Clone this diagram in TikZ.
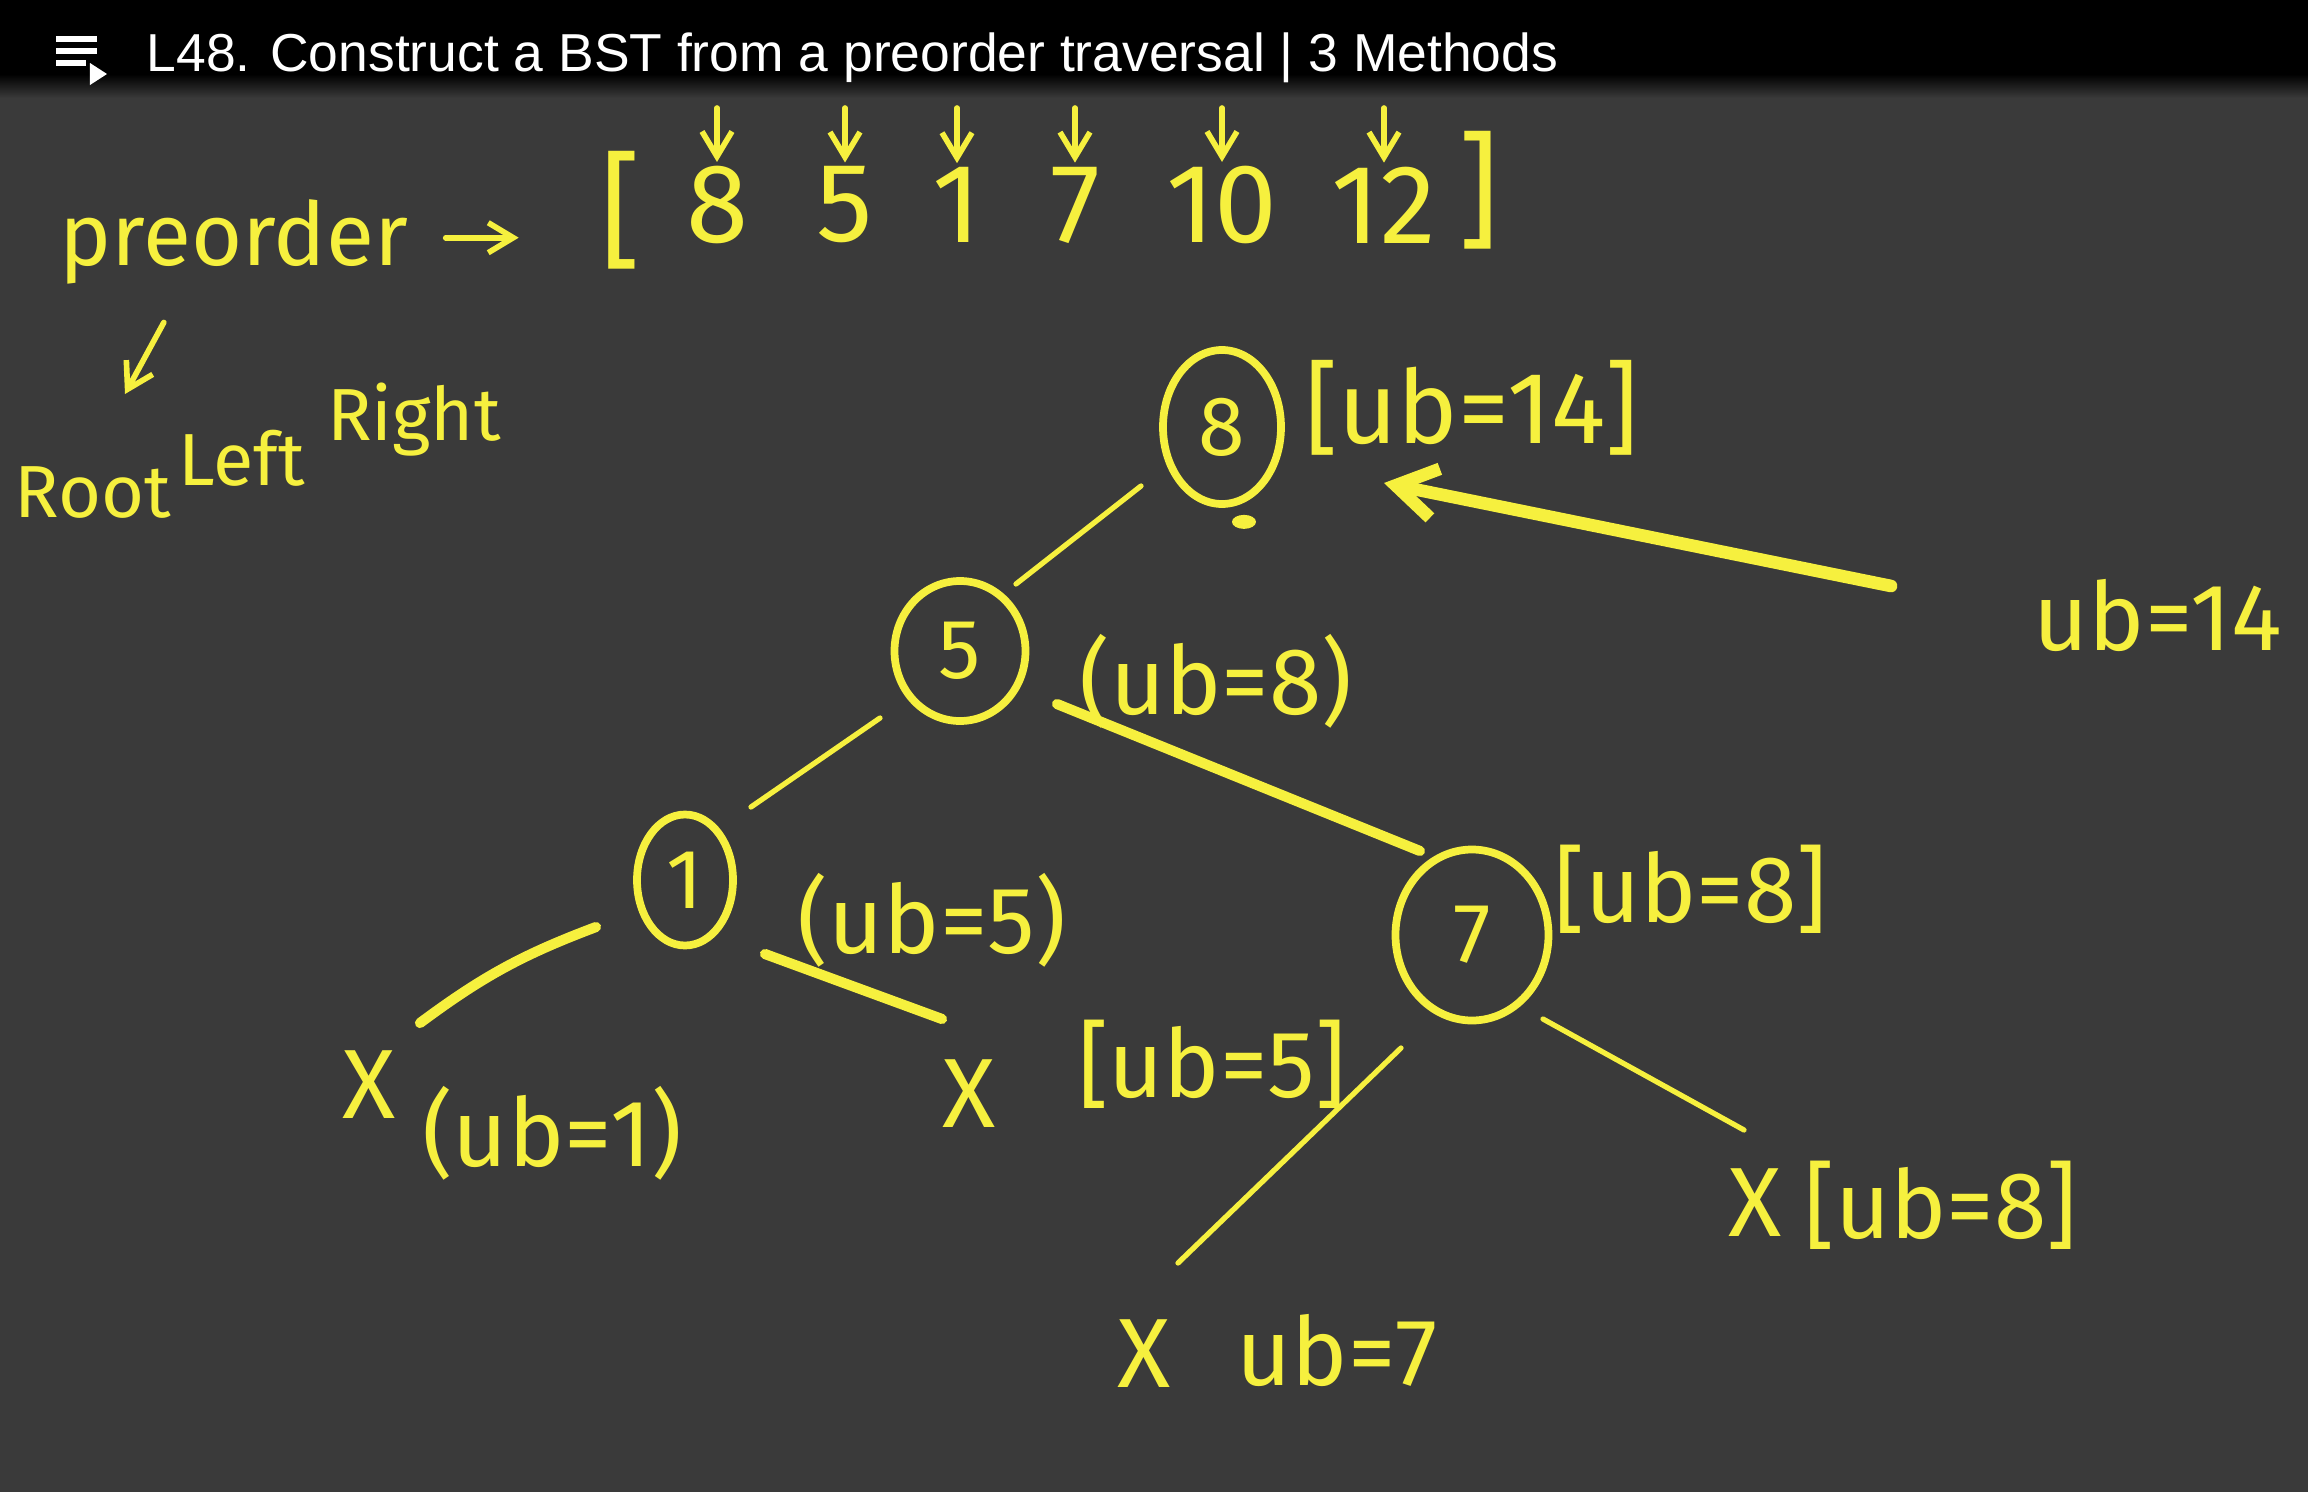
\documentclass[tikz,border=0pt]{standalone}
\usepackage{fontspec}
\setmainfont{Liberation Sans}
\newfontfamily\handfont{Fira Sans}
\usepackage{tikz}
\usetikzlibrary{shapes.geometric, arrows.meta, positioning, calc}
\definecolor{boardGray}{RGB}{58,58,58}
\definecolor{penYellow}{RGB}{246,240,62}
\newcommand{\handsz}[1]{\handfont\fontsize{#1}{#1}\selectfont}
\tikzset{
  bst/key/.style={ellipse, draw=penYellow, line width=2.2pt, inner sep=0pt,
    minimum width=12mm, minimum height=14mm,
    font=\handsz{24}, text=penYellow},
  bst/lbl/.style={inner sep=0pt, font=\handsz{27}, text=penYellow},
  bst/null/.style={inner sep=0pt, font=\handsz{28}, text=penYellow},
  bst/arr/.style={inner sep=1pt, font=\handsz{32}, text=penYellow},
  bst/word/.style={inner sep=0pt, font=\handsz{21}, text=penYellow},
  bst/edge/.style={draw=penYellow, line width=1.5pt, line cap=round},
  bst/edgeT/.style={draw=penYellow, line width=2.9pt, line cap=round},
  bst/pen/.style={draw=penYellow, line width=1.6pt, line cap=round,
    -{Straight Barb[length=2.5mm,width=3mm]}},
  bst/back/.style={draw=penYellow, line width=3.6pt, line cap=round,
    -{Straight Barb[length=4mm,width=5mm]}}
}

\begin{document}
\begin{tikzpicture}[x=1cm, y=-1cm]
  \useasboundingbox (0,0) rectangle (23.08,14.92);
  \fill[boardGray] (0,0) rectangle (23.08,14.92);
  \fill[black] (0,0) rectangle (23.08,0.74);
  \shade[top color=black, bottom color=boardGray] (0,0.74) rectangle (23.08,0.98);

  % title bar
  \foreach \yy/\len in {0.39/0.41, 0.51/0.41, 0.63/0.30}
    \draw[white, line width=0.6mm] (0.56,\yy) -- ++(\len,0);
  \fill[white] (0.90,0.63) -- (1.07,0.74) -- (0.90,0.85) -- cycle;
  \node[anchor=base west, inner sep=0pt, text=white, font=\fontsize{15.2}{16}\selectfont]
    (title) at (1.46,0.71) {L48. Construct a BST from a preorder traversal | 3 Methods};

  % preorder array
  \node[bst/lbl, font=\handsz{25}, anchor=base west] (pre) at (0.59,2.65) {preorder};
  \draw[bst/pen] ([shift={(0.37,-0.18)}]pre.mid east) -- ++(0.73,0);
  \node[bst/word] (wRoot)  at (0.93,4.93) {Root};
  \node[bst/word] (wLeft)  at (2.42,4.58) {Left};
  \node[bst/word] (wRight) at (4.14,4.20) {Right};
  \draw[bst/pen] ([shift={(-0.70,0.38)}]pre.south) -- ([shift={(0.32,-0.99)}]wRoot.center);

  \node[bst/arr, font=\handsz{36}] (lbr) at (6.21,2.10) {[};
  \node[bst/arr, font=\handsz{36}] (rbr) at (14.79,1.90) {]};
  \foreach \v/\x [count=\i] in {8/7.17, 5/8.45, 1/9.57, 7/10.75, 10/12.22, 12/13.84} {
    \node[bst/arr] (a\i) at (\x,2.05) {\v};
    \coordinate (t\i) at (\x,1.08);
    \draw[bst/pen] (t\i) -- (a\i.north);
  }

  % tree
  \node[bst/key, minimum width=11.8mm, minimum height=15.4mm] (n8) at (12.22,4.27) {8};
  \node[bst/key, minimum width=13.1mm, minimum height=14mm]   (n5) at (9.60,6.51)  {5};
  \node[bst/key, minimum width=9.6mm,  minimum height=13.1mm] (n1) at (6.85,8.80)  {1};
  \node[bst/key, minimum width=15.3mm, minimum height=17.1mm] (n7) at (14.72,9.35) {7};
  \fill[penYellow] ([shift={(0.22,0.14)}]n8.south) ellipse (0.12 and 0.07);

  \node[bst/lbl, font=\handsz{29}] (u8) at (14.72,4.08) {[ub=14]};
  \node[bst/lbl] (u5)  at (12.16,6.81)  {(ub=8)};
  \node[bst/lbl] (u1)  at (9.32,9.20)   {(ub=5)};
  \node[bst/lbl] (u7)  at (16.91,8.89)  {[ub=8]};
  \node[bst/lbl] (uR)  at (21.58,6.15)  {ub=14};
  \node[bst/null] (x1l) at (3.69,10.85) {X};
  \node[bst/lbl]  (u1l) at (5.52,11.33) {(ub=1)};
  \node[bst/null] (x1r) at (9.69,10.94) {X};
  \node[bst/lbl]  (u1r) at (12.12,10.64) {[ub=5]};
  \node[bst/null] (x7l) at (11.44,13.54) {X};
  \node[bst/lbl]  (u7l) at (13.37,13.50) {ub=7};
  \node[bst/null] (x7r) at (17.55,12.03) {X};
  \node[bst/lbl]  (u7r) at (19.41,12.05) {[ub=8]};

  \draw[bst/edge]  ([shift={(-0.81,0.59)}]n8.center) -- ([shift={(0.56,-0.67)}]n5.center);
  \draw[bst/edge]  ([shift={(-0.80,0.67)}]n5.center) -- ([shift={(0.66,-0.73)}]n1.center);
  \draw[bst/edgeT] ([shift={(0.97,0.53)}]n5.center)  -- ([shift={(-0.52,-0.84)}]n7.center);
  \draw[bst/edgeT] ([shift={(-0.89,0.47)}]n1.center) to[bend right=8] ([shift={(0.51,-0.62)}]x1l.center);
  \draw[bst/edgeT] ([shift={(0.80,0.74)}]n1.center)  -- ([shift={(-0.27,-0.75)}]x1r.center);
  \draw[bst/edge]  ([shift={(-0.71,1.13)}]n7.center) -- ([shift={(0.34,-0.91)}]x7l.center);
  \draw[bst/edge]  ([shift={(0.71,0.84)}]n7.center)  -- ([shift={(-0.11,-0.73)}]x7r.center);
  % back up from the right subtree of 8
  \draw[bst/back]  ([shift={(-2.67,-0.29)}]uR.center) -- ([shift={(1.62,0.56)}]n8.center);
\end{tikzpicture}
\end{document}
